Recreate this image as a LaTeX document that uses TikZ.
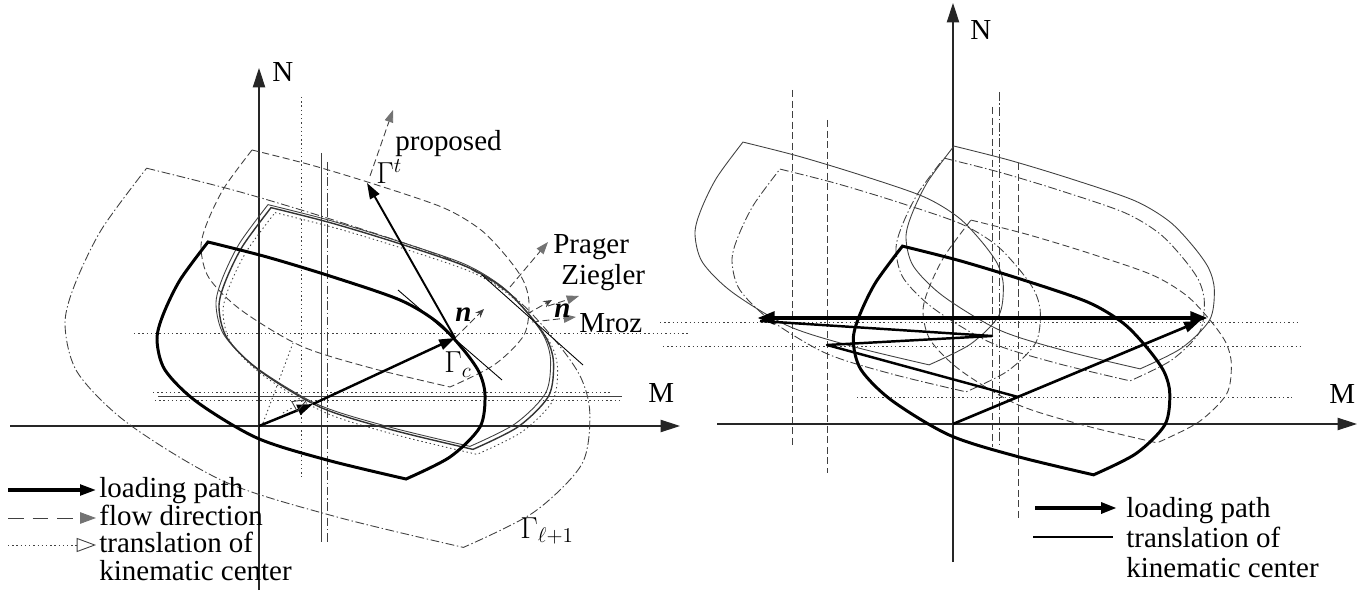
\documentclass[tikz,border=0pt]{standalone}
\usepackage{fontspec}
\setmainfont{Liberation Serif}
\newfontfamily\lserif{Liberation Serif}
\usetikzlibrary{arrows.meta}
\newcommand{\leafshape}[4]{%
  \begin{scope}[shift={(#1,#2)},scale=#3]
    \draw[#4] plot[smooth] coordinates {(-99,-118) (-40,-103) (26,-83) (93,-60) (130,-38) (155,-12) (172,12) (178,35) (173,67) (143,97) (99,119)}
      -- plot[smooth] coordinates {(99,119) (20,100) (-50,78) (-110,42) (-142,10) (-150,-20) (-144,-45) (-127,-80) (-99,-118)} -- cycle;
  \end{scope}}
\begin{document}
\begin{tikzpicture}[x=0.02cm,y=-0.02cm,
  font=\lserif\fontsize{16.5}{18}\selectfont,
  thinl/.style={line width=0.5pt, black!75},
  axl/.style={line width=0.65pt, black!85},
  boldl/.style={line width=1.7pt},
  ddot/.style={dash pattern=on 5pt off 1.5pt on 0.8pt off 1.5pt},
  dots/.style={dash pattern=on 0.8pt off 1.6pt},
  dsh/.style={dash pattern=on 4pt off 2pt},
  axtip/.style={-{Triangle[length=11pt,width=7pt]}},
  loadtip/.style={-{Triangle[length=9pt,width=6pt]}},
  flowtip/.style={-{Triangle[length=7pt,width=5pt,fill=black!55,color=black!55]}},
  bigflowtip/.style={-{Triangle[length=9pt,width=6.5pt,fill=black!55,color=black!55]}},
  opentip/.style={-{Triangle[open,length=9pt,width=7pt]}},
  bigopentip/.style={-{Triangle[open,length=11pt,width=8pt]}},
  lbl/.style={anchor=base west, inner sep=0pt}]
\useasboundingbox (0,0) rectangle (1359,594);

%================ LEFT DIAGRAM =================
% guide lines
\draw[thinl,dots] (301,97) -- (301,477);
\draw[thinl] (321,153) -- (321,542);
\draw[thinl,ddot] (327,162) -- (327,542);
\draw[thinl,dots] (134,333) -- (690,333);
\draw[thinl,dots] (153,392) -- (610,392);
\draw[thinl] (158,396) -- (622,396);
\draw[thinl,dots] (155,400) -- (620,400);

% axes
\coordinate (O1) at (259,426);
\coordinate (Mend1) at (680,426);
\coordinate (Nend1) at (259,68);
\draw[axl,axtip] (10,426) -- (Mend1);
\draw[axl,axtip] (259,590) -- (Nend1);
\node[lbl] (M1) at (648,402) {M};
\node[lbl] (N1) at (272,82) {N};

% surfaces
\leafshape{305}{357}{1.6}{thinl,ddot}
\leafshape{351}{268}{1}{thinl,dsh}
\leafshape{369}{325}{1.02}{thinl}
\leafshape{372}{328}{1.02}{line width=0.8pt,black!80}
\leafshape{376}{333}{1.02}{thinl,dots}
\leafshape{307}{360}{1}{boldl}

% tangents and normals
\coordinate (Gc) at (455,338);
\coordinate (Gt) at (367,183);
\coordinate (Pm) at (527,314);
\draw[thinl,black] (398,290) -- (502,380);
\draw[thinl,black] (482,275) -- (583,365);
\draw[thinl,dsh,-{Stealth[length=5pt,width=4pt]}] (Gc) -- (484,309);
\draw[thinl,dsh,-{Stealth[length=5pt,width=4pt]}] (Pm) -- (552,300);

% flow directions
\coordinate (Fprop) at (393,110);
\coordinate (Fprag) at (548,242);
\coordinate (Fzieg) at (579,296);
\coordinate (Fmroz) at (576,317);
\draw[thinl,dsh,flowtip] (370,176) -- (Fprop);
\draw[thinl,dsh,flowtip] (510,287) -- (Fprag);
\draw[thinl,dsh,flowtip] (548,306) -- (Fzieg);
\draw[thinl,dsh,flowtip] (532,322) -- (Fmroz);

% loading path
\coordinate (K1) at (313,404);
\draw[thinl,dots] (263,423) -- (293,343);
\draw[line width=1.4pt,loadtip] (O1) -- (K1);
\draw[line width=1.4pt,loadtip] (K1) -- (Gc);
\draw[line width=1.1pt,loadtip] (Gc) -- (Gt);
\draw[thinl,dots,opentip] (283,413) -- (308,399);

% labels
\node[lbl] (lprop) at (395,151) {proposed};
\node[lbl] (lGt) at (376,184) {$\Gamma^{t}$};
\node[lbl] (lprag) at (553,254) {Prager};
\node[lbl] (lzieg) at (561,285) {Ziegler};
\node[lbl] (lmroz) at (579,333) {Mroz};
\node[lbl] (ln1) at (455,322) {\textbf{\textit{n}}};
\node[lbl] (ln2) at (554,318) {\textbf{\textit{n}}};
\node[lbl] (lGc) at (444,373) {$\Gamma_{c}$};
\node[lbl] (lGl) at (520,538) {$\Gamma_{\ell+1}$};

% legend left
\draw[line width=1.8pt,loadtip] (8,490) -- (96,490);
\draw[thinl,dash pattern=on 9pt off 5pt,bigflowtip] (8,518) -- (96,518);
\draw[thinl,dots,bigopentip] (8,545) -- (96,545);
\node[lbl] (leg1) at (99,497) {loading path};
\node[lbl] (leg2) at (99,525) {flow direction};
\node[lbl] (leg3) at (99,552) {translation of};
\node[lbl] (leg4) at (99,580) {kinematic center};

%================ RIGHT DIAGRAM =================
\draw[thinl,dsh] (792,90) -- (792,447);
\draw[thinl,dsh] (827,120) -- (827,473);
\draw[thinl,dsh] (992,107) -- (992,447);
\draw[thinl,ddot] (999,92) -- (999,447);
\draw[thinl,dsh] (1018,163) -- (1018,520);
\draw[thinl,dots] (660,322) -- (1300,322);
\draw[thinl,dots] (663,346) -- (1300,346);
\draw[thinl,dots] (857,397) -- (1292,397);

\coordinate (O2) at (953,424);
\draw[axl,axtip] (717,424) -- (1357,424);
\draw[axl,axtip] (953,562) -- (953,3);
\node[lbl] (M2) at (1329,403) {M};
\node[lbl] (N2) at (970,40) {N};

\leafshape{836}{253}{0.94}{thinl}
\leafshape{873}{280}{0.94}{thinl,ddot}
\leafshape{1047}{257}{0.94}{thinl}
\leafshape{1037}{269}{0.94}{thinl,ddot}
\leafshape{1064}{331}{0.94}{thinl,dsh}
\leafshape{998}{360}{0.965}{boldl}

\coordinate (A) at (1208,318);
\coordinate (B) at (757,318);
\coordinate (A1) at (1200,321);
\draw[line width=1.5pt,loadtip] (O2) -- (A1);
\draw[line width=2.8pt,{Triangle[length=10pt,width=7pt]}-{Triangle[length=10pt,width=7pt]}] (B) -- (A);
\draw[line width=1.4pt,line join=round] (760,321) -- (992,336) -- (827,345) -- (1018,397);

% legend right
\draw[line width=2.8pt,-{Triangle[length=9pt,width=6pt]}] (1035,508) -- (1117,508);
\draw[line width=1.6pt] (1033,537) -- (1113,537);
\node[lbl] (rleg1) at (1126,517) {loading path};
\node[lbl] (rleg2) at (1126,547) {translation of};
\node[lbl] (rleg3) at (1126,577) {kinematic center};
\end{tikzpicture}
\end{document}
